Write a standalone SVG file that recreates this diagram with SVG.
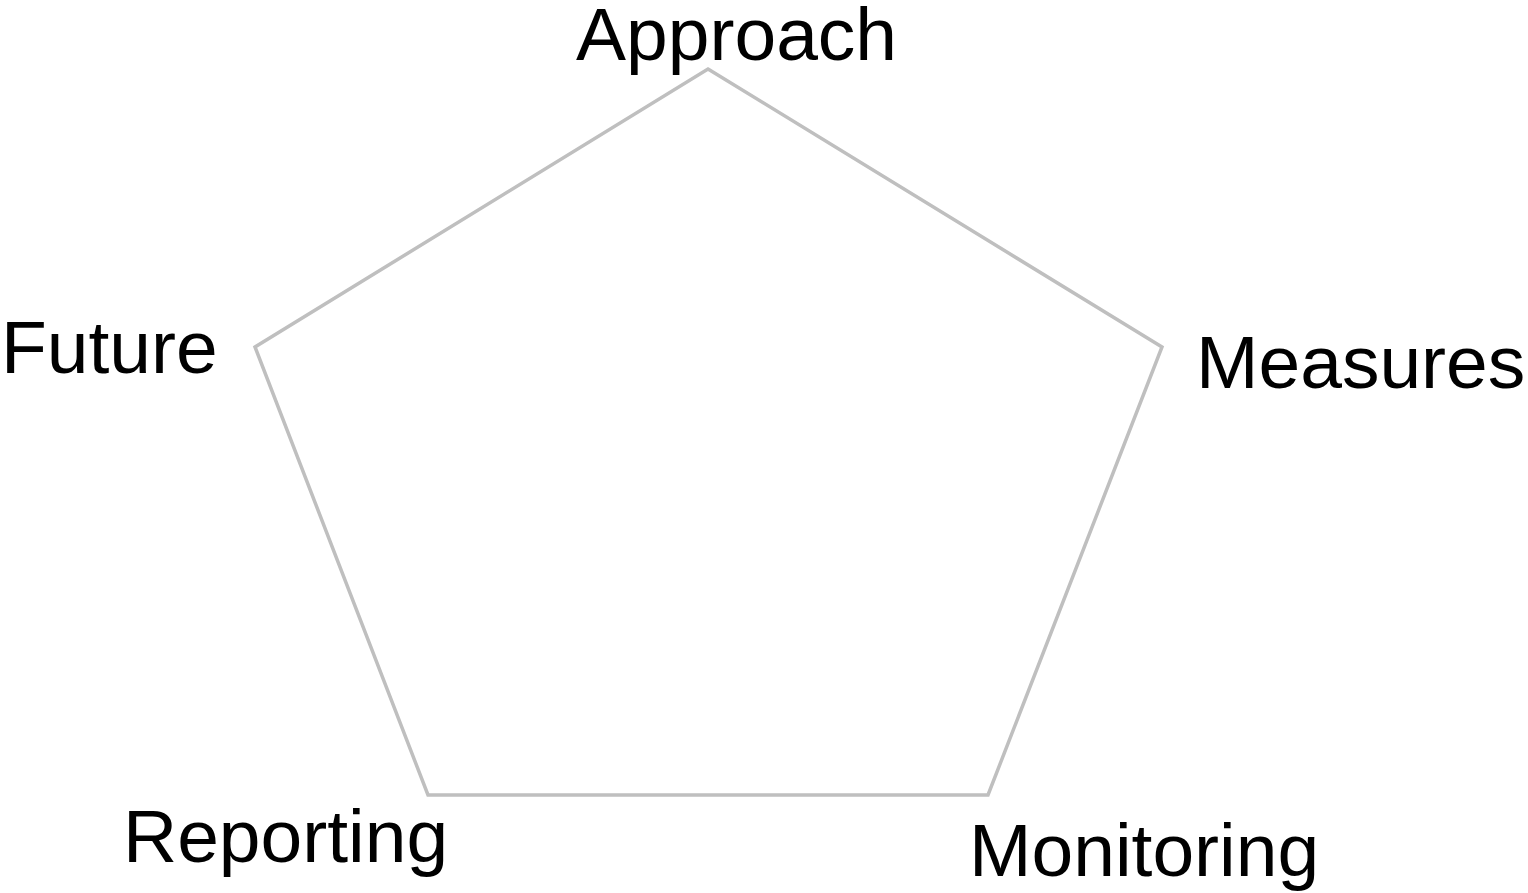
<svg xmlns="http://www.w3.org/2000/svg" width="1528" height="893" viewBox="0 0 1528 893">
  <style>
    .label { font-family: "Liberation Sans", Arial, sans-serif; font-size: 75px; fill: #000; }
    .frame { fill: none; stroke: #bfbfbf; stroke-width: 3.5; stroke-linejoin: miter; }
  </style>
  <rect width="1528" height="893" fill="#fff"/>
  <g id="connectors">
    <polygon class="frame" points="708,69 1162,347 988,795 428,795 255,347"/>
  </g>
  <g id="node-approach"><text class="label" x="576" y="60">Approach</text></g>
  <g id="node-measures"><text class="label" x="1196" y="388">Measures</text></g>
  <g id="node-monitoring"><text class="label" x="969" y="876">Monitoring</text></g>
  <g id="node-reporting"><text class="label" x="123" y="862">Reporting</text></g>
  <g id="node-future"><text class="label" x="1" y="373">Future</text></g>
</svg>
